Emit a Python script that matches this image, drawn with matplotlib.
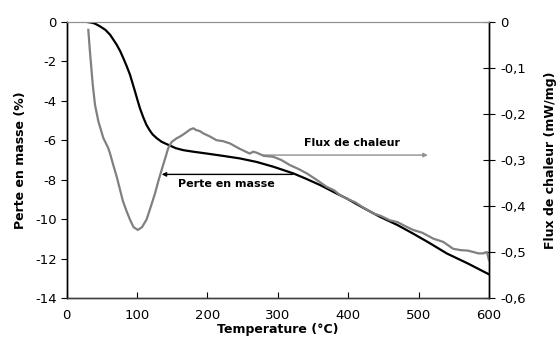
import matplotlib
matplotlib.use("Agg")
import matplotlib.pyplot as plt
from matplotlib.ticker import FuncFormatter

# Mass loss (%) vs temperature (°C)
temp_mass = [29, 35, 40, 47.3, 55, 61.5, 66, 71, 76, 80.4, 85, 89.9, 93.5, 97, 100.5, 104,
             108.6, 113.2, 118, 122, 127.8, 135, 144.3, 155, 165.6, 180, 198.5, 220, 246,
             270, 293.5, 322, 340, 360, 383.5, 397.7, 420, 445, 470, 492, 515, 540, 570, 600]
mass_loss = [0, -0.03, -0.08, -0.22, -0.4, -0.64, -0.88, -1.15, -1.48, -1.83, -2.22, -2.67,
             -3.1, -3.52, -3.95, -4.37, -4.82, -5.21, -5.5, -5.7, -5.89, -6.08, -6.23, -6.4,
             -6.5, -6.58, -6.67, -6.78, -6.92, -7.1, -7.34, -7.68, -7.95, -8.27, -8.7, -8.95,
             -9.4, -9.88, -10.3, -10.73, -11.2, -11.74, -12.25, -12.8]

# Heat flux (mW/mg) vs temperature (°C)
temp_flux = [30.7, 33, 37, 40.2, 45, 52, 59, 61.6, 66, 71, 76, 80, 85, 90, 95, 101, 107,
             113.6, 120, 125.4, 130, 135, 140, 144.3, 149, 156, 161, 168, 175, 180, 184, 189,
             194, 203.6, 213, 222, 232, 245, 260, 265, 269.7, 280, 293.5, 305, 317, 330, 341,
             355, 369, 380, 388, 398, 410, 422, 435.5, 447, 459, 470, 480, 492, 505, 521, 535,
             549, 560, 570, 577.6, 585, 592, 597, 600]
heat_flux = [-0.017, -0.064, -0.136, -0.180, -0.216, -0.252, -0.274, -0.286, -0.310, -0.336,
             -0.366, -0.390, -0.411, -0.430, -0.446, -0.452, -0.446, -0.429, -0.399, -0.373,
             -0.347, -0.321, -0.296, -0.274, -0.261, -0.253, -0.249, -0.242, -0.234, -0.231,
             -0.235, -0.237, -0.242, -0.249, -0.257, -0.259, -0.264, -0.275, -0.286, -0.282,
             -0.284, -0.291, -0.293, -0.300, -0.311, -0.320, -0.329, -0.343, -0.358, -0.366,
             -0.376, -0.384, -0.392, -0.404, -0.416, -0.422, -0.431, -0.435, -0.443, -0.452,
             -0.458, -0.471, -0.478, -0.493, -0.496, -0.497, -0.500, -0.503, -0.503, -0.500,
             -0.518]

x_ticks = [0, 100, 200, 300, 400, 500, 600]
left_ticks = [0, -2, -4, -6, -8, -10, -12, -14]
right_ticks = [0, -0.1, -0.2, -0.3, -0.4, -0.5, -0.6]

fig = plt.figure(figsize=(5.58, 3.53), dpi=100)
ax = fig.add_axes([66.7 / 558, 1 - 298 / 353, (489 - 66.7) / 558, (298 - 22) / 353])
ax2 = ax.twinx()

ax.plot(temp_mass, mass_loss, color="black", lw=1.6, zorder=3, solid_joinstyle="round")
ax2.plot(temp_flux, heat_flux, color="#808080", lw=1.6, zorder=2, solid_joinstyle="round")

ax.set_xlim(0, 600)
ax.set_ylim(-14, 0)
ax2.set_ylim(-0.6, 0)
ax.set_xticks(x_ticks)
ax.set_yticks(left_ticks)
ax2.set_yticks(right_ticks)

ax.yaxis.set_major_formatter(FuncFormatter(lambda v, p: f"{v:g}"))
ax2.yaxis.set_major_formatter(FuncFormatter(lambda v, p: "0" if abs(v) < 1e-9 else f"{v:.1f}".replace(".", ",")))
ax.xaxis.set_major_formatter(FuncFormatter(lambda v, p: f"{v:g}"))

fs = 9.5
ax.tick_params(axis="y", direction="out", length=4, labelsize=fs, pad=3, width=0.8)
ax.tick_params(axis="x", direction="in", length=4, labelsize=fs, pad=8, width=0.8)
ax2.tick_params(axis="y", direction="inout", length=8, labelsize=fs, pad=4, width=0.8)

for a in (ax, ax2):
    a.spines["top"].set_color("#909090")
    a.spines["top"].set_linewidth(0.8)
    a.spines["left"].set_color("black")
    a.spines["right"].set_color("black")
    a.spines["bottom"].set_color("#404040")
    for s in ("left", "right", "bottom"):
        a.spines[s].set_linewidth(1.0)

ax.set_xlabel("Temperature (°C)", fontsize=9, fontweight="bold", labelpad=1)
ax.set_ylabel("Perte en masse (%)", fontsize=9, fontweight="bold", labelpad=6)
ax2.set_ylabel("Flux de chaleur (mW/mg)", fontsize=9, fontweight="bold", labelpad=13)

# Annotations
ax.annotate("", xy=(513, -6.75), xytext=(279, -6.75),
            arrowprops=dict(arrowstyle="-|>", color="#909090", lw=1.0,
                            mutation_scale=6, shrinkA=0, shrinkB=0))
ax.text(405, -6.12, "Flux de chaleur", fontsize=8, fontweight="bold",
        ha="center", va="center", zorder=5)
ax.annotate("", xy=(135, -7.73), xytext=(321, -7.73),
            arrowprops=dict(arrowstyle="-|>", color="black", lw=1.0,
                            mutation_scale=6, shrinkA=0, shrinkB=0))
ax.text(227, -8.22, "Perte en masse", fontsize=8, fontweight="bold",
        ha="center", va="center", zorder=5)

fig.savefig("out.png", dpi=100)
